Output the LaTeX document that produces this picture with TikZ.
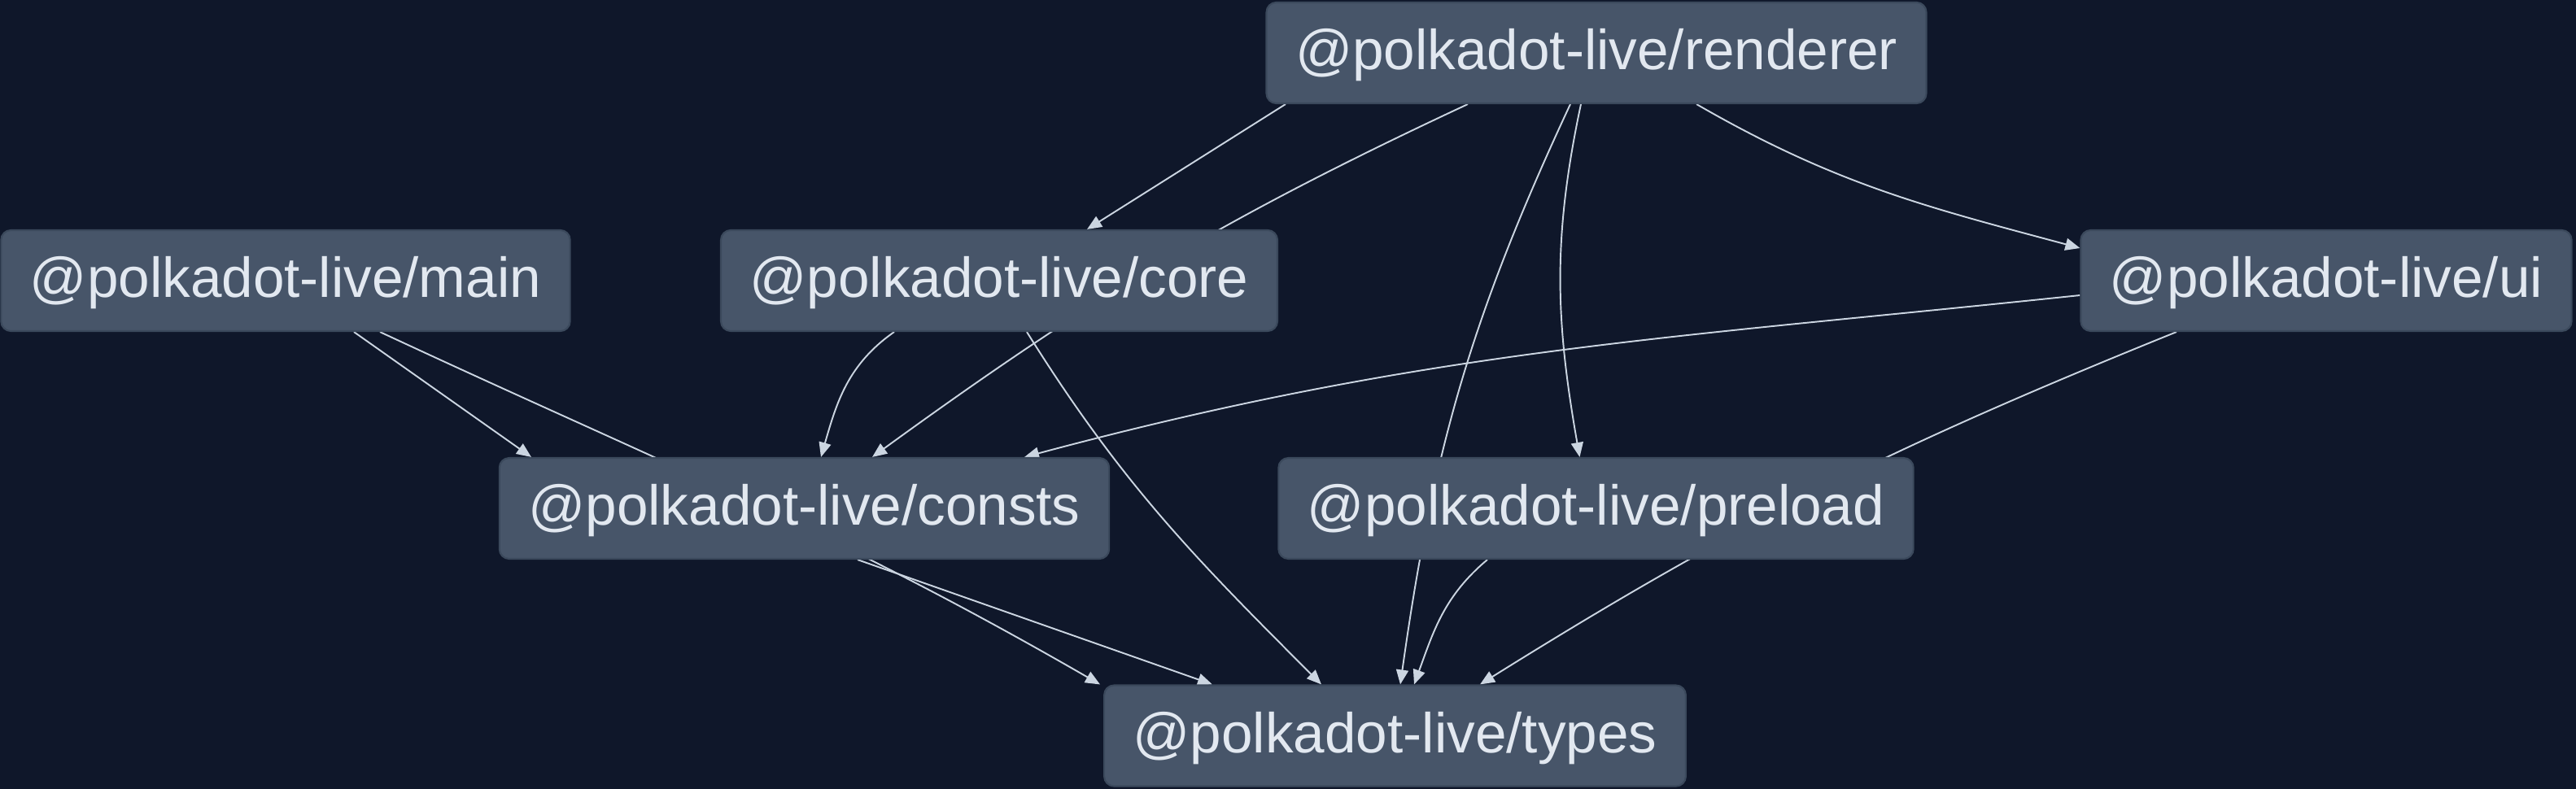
\documentclass[tikz,border=0pt]{standalone}
\usepackage{fontspec}
\setmainfont{Liberation Sans}
\usetikzlibrary{arrows.meta}
\definecolor{bgcol}{HTML}{0F172A}
\definecolor{boxcol}{HTML}{475569}
\definecolor{boxline}{HTML}{3B495C}
\definecolor{txtcol}{HTML}{E2E8F0}
\definecolor{linkcol}{HTML}{CBD5E1}
\pgfdeclarelayer{bg}
\pgfdeclarelayer{links}
\pgfsetlayers{bg,links,main}

\begin{document}
\begin{tikzpicture}[
    pkg/.style = {draw=boxline, fill=boxcol, text=txtcol, rounded corners=0.12cm,
      minimum height=1.24cm, inner xsep=0.355cm, inner ysep=0pt, line width=0.6pt,
      text height=0.56cm, text depth=0.146cm,
      font=\fontsize{19.7}{24}\selectfont},
    link/.style = {draw=linkcol, line width=0.55pt, -{Triangle[length=0.18cm,width=0.15cm]}}]
    \begin{pgfonlayer}{bg}
      \fill[bgcol] (0,0) rectangle (31.66,-9.70);
    \end{pgfonlayer}
    \useasboundingbox (0,0) rectangle (31.66,-9.70);

    \draw (19.62,-0.65) node[pkg] (renderer) {@polkadot-live/renderer};
    \draw (3.51,-3.45) node[pkg] (main) {@polkadot-live/main};
    \draw (12.28,-3.45) node[pkg] (core) {@polkadot-live/core};
    \draw (28.59,-3.45) node[pkg] (ui) {@polkadot-live/ui};
    \draw (9.885,-6.25) node[pkg] (consts) {@polkadot-live/consts};
    \draw (19.615,-6.25) node[pkg] (preload) {@polkadot-live/preload};
    \draw (17.145,-9.045) node[pkg] (types) {@polkadot-live/types};

    \begin{pgfonlayer}{links}
      \draw[style = link] ([xshift=-3.82cm]renderer.south) -- ([xshift=1.08cm]core.north);
      \draw[style = link] ([xshift=-1.58cm]renderer.south) to[out=205,in=36] ([xshift=0.835cm]consts.north);
      \draw[style = link] ([xshift=-0.19cm]renderer.south) to[out=258,in=100] ([xshift=-0.2cm]preload.north);
      \draw[style = link] ([xshift=-0.32cm]renderer.south) to[out=245,in=82] ([xshift=0.065cm]types.north);
      \draw[style = link] ([xshift=1.23cm]renderer.south) to[out=-30,in=165] ([yshift=0.4cm]ui.west);
      \draw[style = link] ([yshift=-0.18cm]ui.west) to[out=186,in=15] ([xshift=2.705cm]consts.north);
      \draw[style = link] ([xshift=-1.84cm]ui.south) to[out=202,in=32] ([xshift=1.045cm]types.north);
      \draw[style = link] ([xshift=-1.29cm]core.south) to[out=215,in=74] ([xshift=0.205cm]consts.north);
      \draw[style = link] ([xshift=0.34cm]core.south) to[out=-58,in=135] ([xshift=-0.905cm]types.north);
      \draw[style = link] ([xshift=0.84cm]main.south) -- ([xshift=-3.355cm]consts.north);
      \draw[style = link] ([xshift=1.16cm]main.south) to[out=-25,in=150] ([xshift=-3.625cm]types.north);
      \draw[style = link] ([xshift=0.655cm]consts.south) -- ([xshift=-2.245cm]types.north);
      \draw[style = link] ([xshift=-1.335cm]preload.south) to[out=220,in=70] ([xshift=0.235cm]types.north);
    \end{pgfonlayer}
\end{tikzpicture}
\end{document}
